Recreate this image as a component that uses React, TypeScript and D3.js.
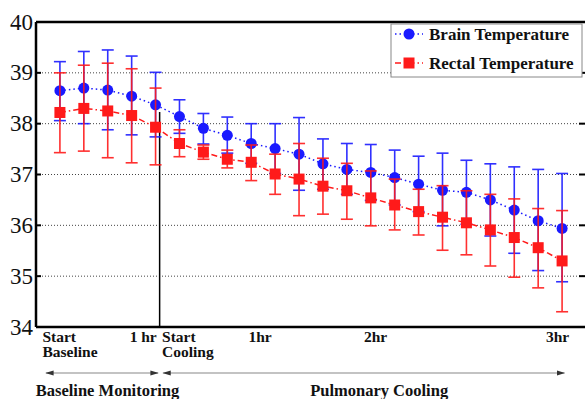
import * as d3 from "d3";

// x index: 0-4 baseline monitoring, 5-21 pulmonary cooling
const brainMean = [38.65, 38.7, 38.66, 38.54, 38.37, 38.14, 37.91, 37.77, 37.61, 37.51, 37.4, 37.21, 37.1, 37.04, 36.94, 36.81, 36.69, 36.65, 36.5, 36.3, 36.09, 35.94];
const brainUpper = [39.22, 39.42, 39.45, 39.33, 39.01, 38.47, 38.2, 38.13, 38.0, 38.0, 38.12, 37.7, 37.61, 37.59, 37.48, 37.36, 37.42, 37.28, 37.21, 37.15, 37.1, 37.02];
const brainLower = [38.06, 38.0, 37.88, 37.78, 37.74, 37.81, 37.6, 37.42, 37.22, 37.02, 36.69, 36.71, 36.61, 36.49, 36.4, 36.27, 35.99, 36.02, 35.79, 35.45, 35.11, 34.89];

const rectalMean = [38.22, 38.3, 38.25, 38.16, 37.93, 37.61, 37.44, 37.3, 37.24, 37.01, 36.91, 36.77, 36.68, 36.54, 36.4, 36.27, 36.16, 36.05, 35.91, 35.76, 35.56, 35.3];
const rectalUpper = [39.0, 39.15, 39.19, 39.08, 38.7, 37.88, 37.58, 37.48, 37.58, 37.4, 37.61, 37.32, 37.22, 37.07, 36.91, 36.71, 36.78, 36.68, 36.61, 36.52, 36.33, 36.29];
const rectalLower = [37.43, 37.46, 37.33, 37.23, 37.19, 37.35, 37.3, 37.13, 36.88, 36.61, 36.19, 36.22, 36.12, 35.99, 35.91, 35.81, 35.51, 35.42, 35.2, 34.98, 34.77, 34.3];

const yTicks = [34, 35, 36, 37, 38, 39, 40];
const gridTicks = [35, 36, 37, 38, 39];

// x tick labels: position on the index axis, lines, anchor
const xLabels = [
  { pos: -0.73, lines: ["Start", "Baseline"], anchor: "start" },
  { pos: 4.05, lines: ["1 hr"], anchor: "end" },
  { pos: 4.27, lines: ["Start", "Cooling"], anchor: "start" },
  { pos: 8.37, lines: ["1hr"], anchor: "middle" },
  { pos: 13.2, lines: ["2hr"], anchor: "middle" },
  { pos: 20.81, lines: ["3hr"], anchor: "middle" },
];

const coolingStart = 4.17;
const phases = [
  { name: "Baseline Monitoring", from: -0.58, to: 4.1, labelAt: 1.99 },
  { name: "Pulmonary Cooling", from: 4.32, to: 21.1, labelAt: 13.35 },
];

const BLUE = "#1a1aff";
const RED = "#ff1a1a";
const FONT = "'Liberation Serif', 'Times New Roman', serif";

export default function App() {
  const width = 585;
  const height = 399;
  const left = 36;
  const right = 586;
  const top = 22;
  const bottom = 327;

  const x = d3.scaleLinear().domain([-1, 22]).range([left, right]);
  const y = d3.scaleLinear().domain([34, 40]).range([bottom, top]);
  const idx = d3.range(brainMean.length);

  const series = [
    { name: "Brain Temperature", color: BLUE, mean: brainMean, upper: brainUpper, lower: brainLower, marker: "circle", dash: "1.5,3" },
    { name: "Rectal Temperature", color: RED, mean: rectalMean, upper: rectalUpper, lower: rectalLower, marker: "square", dash: "6,3,1.5,3" },
  ];

  const line = (vals: number[]) =>
    d3
      .line<number>()
      .x((i) => x(i))
      .y((i) => y(vals[i]))(idx) || "";

  const marker = (kind: string, cx: number, cy: number, color: string, key?: any) =>
    kind === "circle" ? (
      <circle key={key} cx={cx} cy={cy} r={5.5} fill={color} />
    ) : (
      <rect key={key} x={cx - 5.5} y={cy - 5.5} width={11} height={11} fill={color} />
    );

  return (
    <svg
      width={width}
      height={height}
      style={{ position: "absolute", left: 0, top: 0, background: "#fff" }}
      fontFamily={FONT}
    >
      <defs>
        <marker id="arr" viewBox="0 0 10 10" refX="9" refY="5" markerWidth="7" markerHeight="7" orient="auto-start-reverse">
          <path d="M0,2 L10,5 L0,8 Z" fill="#333" />
        </marker>
      </defs>

      {/* grid */}
      {gridTicks.map((t) => (
        <line key={"g" + t} x1={left} x2={right} y1={y(t)} y2={y(t)} stroke="#444" strokeWidth={1} strokeDasharray="1,2" />
      ))}

      {/* inward ticks */}
      {gridTicks.map((t) => (
        <g key={"t" + t}>
          <line x1={left} x2={left + 5} y1={y(t)} y2={y(t)} stroke="#000" strokeWidth={2} />
          <line x1={right - 7} x2={right} y1={y(t)} y2={y(t)} stroke="#000" strokeWidth={2} />
        </g>
      ))}

      {/* cooling start divider */}
      <line x1={x(coolingStart)} x2={x(coolingStart)} y1={bottom} y2={y(38.23)} stroke="#000" strokeWidth={1.5} />

      {/* series */}
      {series.map((s) => (
        <g key={s.name}>
          {idx.map((i) => (
            <g key={i} stroke={s.color} strokeWidth={1.6} opacity={0.9}>
              <line x1={x(i)} x2={x(i)} y1={y(s.upper[i])} y2={y(s.lower[i])} />
              <line x1={x(i) - 6} x2={x(i) + 6} y1={y(s.upper[i])} y2={y(s.upper[i])} />
              <line x1={x(i) - 6} x2={x(i) + 6} y1={y(s.lower[i])} y2={y(s.lower[i])} />
            </g>
          ))}
          <path d={line(s.mean)} fill="none" stroke={s.color} strokeWidth={1.5} strokeDasharray={s.dash} />
          {idx.map((i) => marker(s.marker, x(i), y(s.mean[i]), s.color, i))}
        </g>
      ))}

      {/* frame */}
      <line x1={left} x2={right} y1={top} y2={top} stroke="#000" strokeWidth={2.5} />
      <line x1={left} x2={right} y1={bottom} y2={bottom} stroke="#000" strokeWidth={2.5} />
      <line x1={left} x2={left} y1={top} y2={bottom} stroke="#000" strokeWidth={2.5} />

      {/* y tick labels */}
      {yTicks.map((t) => (
        <text key={"yl" + t} x={33} y={y(t)} textAnchor="end" dominantBaseline="central" fontSize={23} fill="#111">
          {t}
        </text>
      ))}

      {/* x tick labels, one text per line */}
      {xLabels.map((l, k) =>
        l.lines.map((ln, j) => (
          <text
            key={"xl" + k + "-" + j}
            x={x(l.pos)}
            y={342 + j * 14.5}
            textAnchor={l.anchor}
            fontSize={15.5}
            fontWeight="bold"
            fill="#111"
          >
            {ln}
          </text>
        )),
      )}

      {/* phase arrows */}
      {phases.map((p) => (
        <g key={p.name}>
          <line
            x1={x(p.from)}
            x2={x(p.to)}
            y1={373}
            y2={373}
            stroke="#888"
            strokeWidth={1.2}
            markerStart="url(#arr)"
            markerEnd="url(#arr)"
          />
          <text x={x(p.labelAt)} y={396} textAnchor="middle" fontSize={16.5} fontWeight="bold" fill="#111">
            {p.name}
          </text>
        </g>
      ))}

      {/* legend */}
      <rect x={391} y={24} width={191} height={53} fill="#fff" stroke="#888" strokeWidth={1} />
      {series.map((s, k) => {
        const ly = k === 0 ? 34 : 63;
        return (
          <g key={"lg" + k}>
            <line x1={395} x2={423} y1={ly} y2={ly} stroke={s.color} strokeWidth={1.5} strokeDasharray={s.dash} />
            {marker(s.marker, 409, ly, s.color)}
            <text x={429} y={ly + 5.5} fontSize={17} fontWeight="bold" fill="#111">
              {s.name}
            </text>
          </g>
        );
      })}
    </svg>
  );
}
